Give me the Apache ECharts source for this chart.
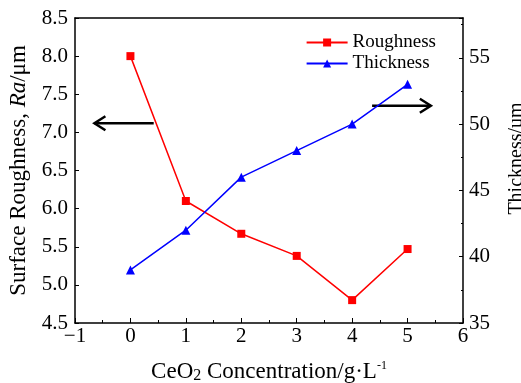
<!DOCTYPE html>
<html>
<head>
<meta charset="utf-8">
<script src="https://cdn.jsdelivr.net/npm/echarts@6/dist/echarts.min.js"></script>
<style>
  html, body { margin: 0; padding: 0; background: #fff; }
  #main { width: 521px; height: 383px; }
</style>
</head>
<body>
<div id="main"></div>
<script>
// CeO2 concentration (g/L)
var concentration = [0, 1, 2, 3, 4, 5];
var roughness = [8.0, 6.1, 5.67, 5.38, 4.8, 5.47];
var thickness = [39, 42, 46, 48, 50, 53];

// arrow annotations, in data units of the left axis: [xFrom, xTo, y]
var leftArrow = [0.42, -0.65, 7.12];
var rightArrow = [4.36, 5.42, 7.35];

var font = 'Liberation Serif';
var chart = echarts.init(document.getElementById('main'));

function pairs(ys) {
    return concentration.map(function (x, i) { return [x, ys[i]]; });
}

var axisLine = { show: true, onZero: false, lineStyle: { color: '#000', width: 1.5 } };

option = {
    backgroundColor: '#fff',
    animation: false,
    textStyle: { fontFamily: font },
    grid: { left: 75, right: 58, top: 18, bottom: 60, containLabel: false, outerBoundsMode: 'none' },
    legend: {
        right: 80,
        top: 28,
        orient: 'vertical',
        itemGap: 2,
        itemWidth: 41,
        itemHeight: 10,
        textStyle: { fontFamily: font, fontSize: 19, color: '#000' },
        data: ['Roughness', 'Thickness']
    },
    xAxis: [{
        type: 'value',
        min: -1,
        max: 6,
        interval: 1,
        name: '{a|CeO}{s|2}{a| Concentration/g·L}{u|-1}',
        nameLocation: 'middle',
        nameGap: 37,
        nameTextStyle: {
            rich: {
                a: { fontFamily: font, fontSize: 23, color: '#000' },
                s: { fontFamily: font, fontSize: 16, color: '#000', verticalAlign: 'bottom', padding: [0, 0, -1, 0] },
                u: { fontFamily: font, fontSize: 12, color: '#000', verticalAlign: 'top', padding: [0, 0, 10, 0] }
            }
        },
        axisLine: axisLine,
        axisTick: { inside: true, length: 5, lineStyle: { color: '#000' } },
        minorTick: { show: true, splitNumber: 2, length: 3, lineStyle: { color: '#000' } },
        axisLabel: {
            fontFamily: font, fontSize: 21, color: '#000', margin: 3,
            formatter: function (v) { return v < 0 ? '\u2212' + Math.abs(v) : v; }
        },
        splitLine: { show: false }
    }, {
        // top frame line
        type: 'value',
        position: 'top',
        min: -1,
        max: 6,
        axisLine: axisLine,
        axisTick: { show: false },
        axisLabel: { show: false },
        splitLine: { show: false }
    }],
    yAxis: [{
        type: 'value',
        min: 4.5,
        max: 8.5,
        interval: 0.5,
        name: '{a|Surface Roughness, }{i|Ra}{a|/μm}',
        nameLocation: 'middle',
        nameGap: 45,
        nameRotate: 90,
        nameTextStyle: {
            rich: {
                a: { fontFamily: font, fontSize: 23, color: '#000' },
                i: { fontFamily: font, fontSize: 23, color: '#000', fontStyle: 'italic' }
            }
        },
        axisLine: axisLine,
        axisTick: { inside: true, length: 4, lineStyle: { color: '#000' } },
        axisLabel: {
            fontFamily: font, fontSize: 21, color: '#000', margin: 7,
            formatter: function (v) { return v.toFixed(1); }
        },
        splitLine: { show: false }
    }, {
        type: 'value',
        min: 35,
        max: 58,
        interval: 5,
        position: 'right',
        name: 'Thickness/um',
        nameLocation: 'middle',
        nameGap: 44,
        nameRotate: 90,
        nameTextStyle: { fontFamily: font, fontSize: 20, color: '#000', padding: [0, 0, 0, 24] },
        axisLine: axisLine,
        axisTick: { inside: true, length: 4, lineStyle: { color: '#000' } },
        minorTick: { show: true, splitNumber: 2, length: 2, lineStyle: { color: '#000' } },
        axisLabel: {
            fontFamily: font, fontSize: 21, color: '#000', margin: 6,
            showMaxLabel: false
        },
        splitLine: { show: false }
    }],
    series: [{
        name: 'Roughness',
        type: 'line',
        yAxisIndex: 0,
        data: pairs(roughness),
        symbol: 'rect',
        symbolSize: 8,
        color: '#ff0000',
        lineStyle: { width: 1.5, color: '#ff0000' },
        itemStyle: { color: '#ff0000' }
    }, {
        name: 'Thickness',
        type: 'line',
        yAxisIndex: 1,
        data: pairs(thickness),
        symbol: 'triangle',
        symbolSize: 9,
        color: '#0000ff',
        lineStyle: { width: 1.5, color: '#0000ff' },
        itemStyle: { color: '#0000ff' }
    }]
};
chart.setOption(option);

// open-head arrows placed through the axis scales
function arrow(a) {
    var p0 = chart.convertToPixel({ xAxisIndex: 0, yAxisIndex: 0 }, [a[0], a[2]]);
    var p1 = chart.convertToPixel({ xAxisIndex: 0, yAxisIndex: 0 }, [a[1], a[2]]);
    var dir = p1[0] > p0[0] ? 1 : -1;
    var style = { stroke: '#000', lineWidth: 2.5, fill: null };
    return [{
        type: 'line', shape: { x1: p0[0], y1: p0[1], x2: p1[0], y2: p1[1] }, style: style
    }, {
        type: 'polyline',
        shape: { points: [[p1[0] - dir * 11, p1[1] - 7], [p1[0], p1[1]], [p1[0] - dir * 11, p1[1] + 7]] },
        style: style
    }];
}
chart.setOption({ graphic: arrow(leftArrow).concat(arrow(rightArrow)) });
</script>
</body>
</html>
